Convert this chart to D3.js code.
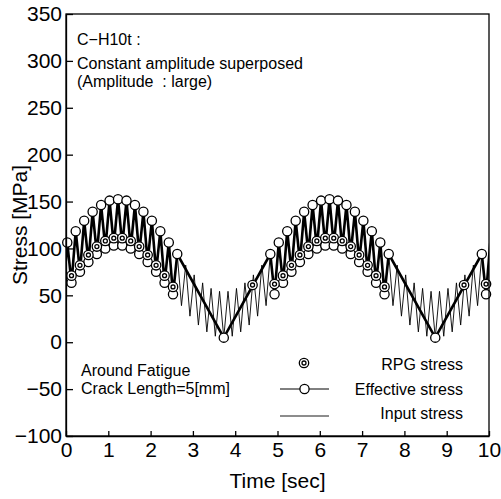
<!DOCTYPE html>
<html>
<head>
<meta charset="utf-8">
<script src="https://cdn.jsdelivr.net/npm/d3@7"></script>
<style>
  body { margin: 0; background: #fff; }
  svg { font-family: "Liberation Sans", Arial, sans-serif; }
  .axis path, .axis line { stroke: #000; stroke-width: 1.3px; }
  .axis text { font-size: 21px; fill: #000; font-family: "Liberation Sans", Arial, sans-serif; }
</style>
</head>
<body>
<svg id="chart" width="501" height="499"></svg>
<script>
// input stress, peaks and troughs of the 5 Hz wave
var inputTime = [-0.07, 0.03, 0.13, 0.23, 0.33, 0.43, 0.53, 0.63, 0.73, 0.83, 0.93,
  1.03, 1.13, 1.23, 1.33, 1.43, 1.53, 1.63, 1.73, 1.83, 1.93,
  2.03, 2.13, 2.23, 2.33, 2.43, 2.53, 2.63, 2.73, 2.83, 2.93,
  3.03, 3.13, 3.23, 3.33, 3.43, 3.53, 3.63, 3.73, 3.83, 3.93,
  4.03, 4.13, 4.23, 4.33, 4.43, 4.53, 4.63, 4.73, 4.83, 4.93,
  5.03, 5.13, 5.23, 5.33, 5.43, 5.53, 5.63, 5.73, 5.83, 5.93,
  6.03, 6.13, 6.23, 6.33, 6.43, 6.53, 6.63, 6.73, 6.83, 6.93,
  7.03, 7.13, 7.23, 7.33, 7.43, 7.53, 7.63, 7.73, 7.83, 7.93,
  8.03, 8.13, 8.23, 8.33, 8.43, 8.53, 8.63, 8.73, 8.83, 8.93,
  9.03, 9.13, 9.23, 9.33, 9.43, 9.53, 9.63, 9.73, 9.83, 9.93, 10.03];
var inputStress = [51.1,
  106.3, 63.4, 118.4, 75.2, 129.6, 85.6, 139.1, 94.1, 146.4, 100.0,
  151.0, 103.1, 152.5, 103.1, 151.0, 100.0, 146.4, 94.1, 139.1, 85.6,
  129.6, 75.2, 118.4, 63.4, 106.3, 51.1, 94.0, 39.0, 82.2, 27.8,
  71.8, 18.3, 63.3, 11.0, 57.4, 6.4, 54.3, 4.9, 54.3, 6.4,
  57.4, 11.0, 63.3, 18.3, 71.8, 27.8, 82.2, 39.0, 94.0, 51.1,
  106.3, 63.4, 118.4, 75.2, 129.6, 85.6, 139.1, 94.1, 146.4, 100.0,
  151.0, 103.1, 152.5, 103.1, 151.0, 100.0, 146.4, 94.1, 139.1, 85.6,
  129.6, 75.2, 118.4, 63.4, 106.3, 51.1, 94.0, 39.0, 82.2, 27.8,
  71.8, 18.3, 63.3, 11.0, 57.4, 6.4, 54.3, 4.9, 54.3, 6.4,
  57.4, 11.0, 63.3, 18.3, 71.8, 27.8, 82.2, 39.0, 94.0, 51.1, 106.3];

var effTime = [-0.07, 0.03, 0.13, 0.23, 0.33, 0.43, 0.53, 0.63, 0.73, 0.83, 0.93,
  1.03, 1.13, 1.23, 1.33, 1.43, 1.53, 1.63, 1.73, 1.83, 1.93,
  2.03, 2.13, 2.23, 2.33, 2.43, 2.53, 2.63, 3.73, 4.83, 4.93,
  5.03, 5.13, 5.23, 5.33, 5.43, 5.53, 5.63, 5.73, 5.83, 5.93,
  6.03, 6.13, 6.23, 6.33, 6.43, 6.53, 6.63, 6.73, 6.83, 6.93,
  7.03, 7.13, 7.23, 7.33, 7.43, 7.53, 7.63, 8.73, 9.83, 9.93, 10.03];
var effStress = [51.1,
  106.3, 63.4, 118.4, 75.2, 129.6, 85.6, 139.1, 94.1, 146.4, 100.0,
  151.0, 103.1, 152.5, 103.1, 151.0, 100.0, 146.4, 94.1, 139.1, 85.6,
  129.6, 75.2, 118.4, 63.4, 106.3, 51.1, 94.0, 4.9, 94.0, 51.1,
  106.3, 63.4, 118.4, 75.2, 129.6, 85.6, 139.1, 94.1, 146.4, 100.0,
  151.0, 103.1, 152.5, 103.1, 151.0, 100.0, 146.4, 94.1, 139.1, 85.6,
  129.6, 75.2, 118.4, 63.4, 106.3, 51.1, 94.0, 4.9, 94.0, 51.1, 106.3];

var rpgTime = [0.13, 0.33, 0.53, 0.73, 0.93, 1.13, 1.33, 1.53, 1.73, 1.93, 2.13, 2.33, 2.53,
  4.41, 4.93, 5.13, 5.33, 5.53, 5.73, 5.93, 6.13, 6.33, 6.53, 6.73, 6.93, 7.13, 7.33, 7.53,
  9.41, 9.93];
var rpgStress = [71, 82, 93, 102, 108, 111, 111, 108, 102, 93, 82, 71, 59,
  61, 62, 71, 82, 93, 102, 108, 111, 111, 108, 102, 93, 82, 71, 59,
  61, 62];

var xTicks = [0, 1, 2, 3, 4, 5, 6, 7, 8, 9, 10];
var yTicks = [-100, -50, 0, 50, 100, 150, 200, 250, 300, 350];

var svg = d3.select("#chart");
var x = d3.scaleLinear().domain([0, 10]).range([66, 489]);
var y = d3.scaleLinear().domain([-100, 350]).range([436, 14]);

var toPoints = function(times, values){
  return times.map(function(t, i){ return [t, values[i]]; });
};
var inRange = function(d){ return d[0] >= 0 && d[0] <= 10; };

var inputPts = toPoints(inputTime, inputStress);
var effPts = toPoints(effTime, effStress);
var rpgPts = toPoints(rpgTime, rpgStress);

svg.append("clipPath").attr("id", "plotClip")
  .append("rect")
  .attr("x", x(0)).attr("y", y(350))
  .attr("width", x(10) - x(0)).attr("height", y(-100) - y(350));

var line = d3.line()
  .x(function(d){ return x(d[0]); })
  .y(function(d){ return y(d[1]); });

var plot = svg.append("g");

// input stress (thin)
plot.append("path")
  .attr("clip-path", "url(#plotClip)")
  .attr("d", line(inputPts))
  .attr("fill", "none")
  .attr("stroke", "#000")
  .attr("stroke-width", 0.9);

// effective stress (thick)
plot.append("path")
  .attr("clip-path", "url(#plotClip)")
  .attr("d", line(effPts))
  .attr("fill", "none")
  .attr("stroke", "#000")
  .attr("stroke-width", 2.6);

plot.selectAll("circle.eff")
  .data(effPts.filter(inRange))
  .enter()
  .append("circle")
  .attr("class", "eff")
  .attr("cx", function(d){ return x(d[0]); })
  .attr("cy", function(d){ return y(d[1]); })
  .attr("r", 4.6)
  .attr("fill", "#fff")
  .attr("stroke", "#000")
  .attr("stroke-width", 1.3);

var drawRpg = function(sel){
  sel.append("circle").attr("r", 4.7)
    .attr("fill", "#fff").attr("stroke", "#000").attr("stroke-width", 1.3);
  sel.append("circle").attr("r", 2)
    .attr("fill", "#fff").attr("stroke", "#000").attr("stroke-width", 1.3);
};

plot.selectAll("g.rpg")
  .data(rpgPts.filter(inRange))
  .enter()
  .append("g")
  .attr("class", "rpg")
  .attr("transform", function(d){ return "translate(" + x(d[0]) + "," + y(d[1]) + ")"; })
  .call(drawRpg);

// axes with inward ticks, plus the frame
svg.append("g")
  .attr("class", "axis")
  .attr("transform", "translate(0," + y(-100) + ")")
  .call(d3.axisBottom(x).tickValues(xTicks).tickSizeInner(-5).tickSizeOuter(0).tickPadding(6));

svg.append("g")
  .attr("class", "axis")
  .attr("transform", "translate(" + x(0) + ",0)")
  .call(d3.axisLeft(y).tickValues(yTicks).tickSizeInner(-7).tickSizeOuter(0).tickPadding(4));

svg.append("rect")
  .attr("x", x(0)).attr("y", y(350))
  .attr("width", x(10) - x(0)).attr("height", y(-100) - y(350))
  .attr("fill", "none")
  .attr("stroke", "#000")
  .attr("stroke-width", 1.3);

svg.append("text")
  .attr("x", (x(0) + x(10)) / 2).attr("y", 488)
  .attr("text-anchor", "middle")
  .attr("font-size", 21)
  .text("Time [sec]");

svg.append("text")
  .attr("transform", "translate(27," + (y(-100) + y(350)) / 2 + ") rotate(-90)")
  .attr("text-anchor", "middle")
  .attr("font-size", 21)
  .text("Stress [MPa]");

// annotations
var notes = svg.append("g").attr("font-size", 16);
notes.append("text").attr("x", 77).attr("y", 45).text("C\u2212H10t :");
notes.append("text").attr("x", 77).attr("y", 69).text("Constant amplitude superposed");
notes.append("text").attr("x", 77).attr("y", 87).text("(Amplitude\u00a0\u00a0: large)");
notes.append("text").attr("x", 81).attr("y", 376).text("Around Fatigue");
notes.append("text").attr("x", 81).attr("y", 394).text("Crack Length=5[mm]");

// legend
var legend = svg.append("g").attr("font-size", 16);
legend.append("g").attr("transform", "translate(304,363)").call(drawRpg);
legend.append("text").attr("x", 463).attr("y", 370).attr("text-anchor", "end").text("RPG stress");

legend.append("line").attr("x1", 280).attr("x2", 329).attr("y1", 389).attr("y2", 389)
  .attr("stroke", "#000").attr("stroke-width", 1);
legend.append("circle").attr("cx", 304.5).attr("cy", 389).attr("r", 4.6)
  .attr("fill", "#fff").attr("stroke", "#000").attr("stroke-width", 1.3);
legend.append("text").attr("x", 463).attr("y", 395).attr("text-anchor", "end").text("Effective stress");

legend.append("line").attr("x1", 280).attr("x2", 329).attr("y1", 416).attr("y2", 416)
  .attr("stroke", "#000").attr("stroke-width", 0.9);
legend.append("text").attr("x", 463).attr("y", 419).attr("text-anchor", "end").text("Input stress");
</script>
</body>
</html>
